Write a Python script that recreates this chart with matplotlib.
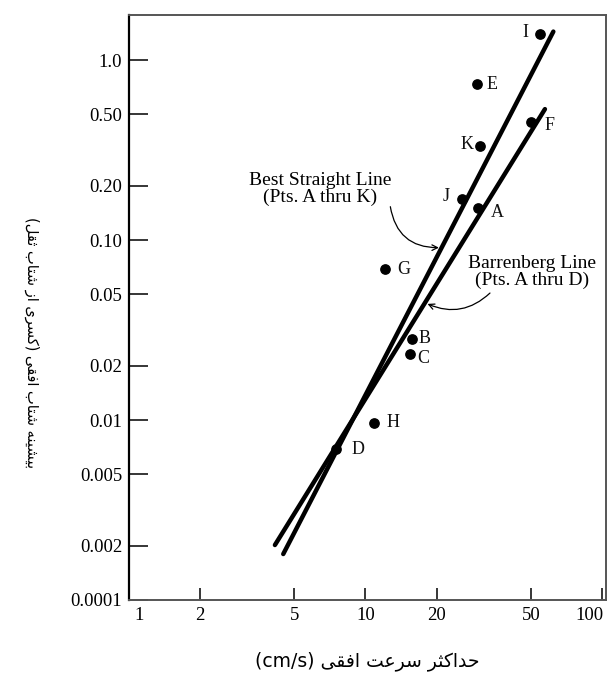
import matplotlib.pyplot as plt
import matplotlib.transforms as mtransforms
import numpy as np

# point data
point_names = ['A', 'B', 'C', 'D', 'E', 'F', 'G', 'H', 'I', 'J', 'K']
velocity = [30.0, 15.7, 15.4, 7.5, 29.5, 50.1, 12.1, 10.9, 54.7, 25.7, 30.5]   # cm/s
accel = [0.151, 0.0282, 0.0233, 0.00687, 0.736, 0.454, 0.0688, 0.00966, 1.39, 0.169, 0.333]

# fitted lines (end points)
best_x = [4.49, 62.3]
best_y = [0.0018, 1.44]
barr_x = [4.14, 57.4]
barr_y = [0.00202, 0.534]

x_ticks = [1, 2, 5, 10, 20, 50, 100]
x_ticklabels = ['1', '2', '5', '10', '20', '50', '100']
y_ticks = [0.001, 0.002, 0.005, 0.01, 0.02, 0.05, 0.1, 0.2, 0.5, 1.0]
y_ticklabels = ['0.0001', '0.002', '0.005', '0.01', '0.02', '0.05', '0.10', '0.20', '0.50', '1.0']

x_label_fa = 'حداکثر سرعت افقی'
y_label_fa = 'بیشینه شتاب افقی (کسری از شتاب ثقل)'

# label offsets (points) for each dot
label_off = {'A': (9, -3), 'B': (5, 0), 'C': (5, -3), 'D': (11, 0), 'E': (7, 0),
             'F': (10, -3), 'G': (9, 0), 'H': (9, 0), 'I': (-8, 1), 'J': (-9, 2),
             'K': (-5, 1)}

# --- minimal arabic/persian shaping (matplotlib has no bidi / joining) ---
FORMS = {
    'ا': ('\uFE8D', '\uFE8E', None, None), 'آ': ('\uFE81', '\uFE82', None, None),
    'ب': ('\uFE8F', '\uFE90', '\uFE91', '\uFE92'), 'پ': ('\uFB56', '\uFB57', '\uFB58', '\uFB59'),
    'ت': ('\uFE95', '\uFE96', '\uFE97', '\uFE98'), 'ث': ('\uFE99', '\uFE9A', '\uFE9B', '\uFE9C'),
    'ج': ('\uFE9D', '\uFE9E', '\uFE9F', '\uFEA0'), 'چ': ('\uFB7A', '\uFB7B', '\uFB7C', '\uFB7D'),
    'ح': ('\uFEA1', '\uFEA2', '\uFEA3', '\uFEA4'), 'خ': ('\uFEA5', '\uFEA6', '\uFEA7', '\uFEA8'),
    'د': ('\uFEA9', '\uFEAA', None, None), 'ذ': ('\uFEAB', '\uFEAC', None, None),
    'ر': ('\uFEAD', '\uFEAE', None, None), 'ز': ('\uFEAF', '\uFEB0', None, None),
    'ژ': ('\uFB8A', '\uFB8B', None, None),
    'س': ('\uFEB1', '\uFEB2', '\uFEB3', '\uFEB4'), 'ش': ('\uFEB5', '\uFEB6', '\uFEB7', '\uFEB8'),
    'ص': ('\uFEB9', '\uFEBA', '\uFEBB', '\uFEBC'), 'ض': ('\uFEBD', '\uFEBE', '\uFEBF', '\uFEC0'),
    'ط': ('\uFEC1', '\uFEC2', '\uFEC3', '\uFEC4'), 'ظ': ('\uFEC5', '\uFEC6', '\uFEC7', '\uFEC8'),
    'ع': ('\uFEC9', '\uFECA', '\uFECB', '\uFECC'), 'غ': ('\uFECD', '\uFECE', '\uFECF', '\uFED0'),
    'ف': ('\uFED1', '\uFED2', '\uFED3', '\uFED4'), 'ق': ('\uFED5', '\uFED6', '\uFED7', '\uFED8'),
    'ک': ('\uFB8E', '\uFB8F', '\uFB90', '\uFB91'), 'گ': ('\uFB92', '\uFB93', '\uFB94', '\uFB95'),
    'ل': ('\uFEDD', '\uFEDE', '\uFEDF', '\uFEE0'), 'م': ('\uFEE1', '\uFEE2', '\uFEE3', '\uFEE4'),
    'ن': ('\uFEE5', '\uFEE6', '\uFEE7', '\uFEE8'), 'و': ('\uFEED', '\uFEEE', None, None),
    'ه': ('\uFEE9', '\uFEEA', '\uFEEB', '\uFEEC'), 'ی': ('\uFBFC', '\uFBFD', '\uFBFE', '\uFBFF'),
}


def shape_rtl(s):
    out = []
    for i, ch in enumerate(s):
        if ch not in FORMS:
            out.append(ch)
            continue
        prev = s[i - 1] if i > 0 else ''
        nxt = s[i + 1] if i < len(s) - 1 else ''
        jp = prev in FORMS and FORMS[prev][2] is not None
        jn = FORMS[ch][2] is not None and nxt in FORMS
        iso, fin, ini, med = FORMS[ch]
        out.append(med if (jp and jn) else fin if jp else ini if jn else iso)
    mirror = {'(': ')', ')': '('}
    return ''.join(mirror.get(c, c) for c in reversed(out))


SERIF = 'Liberation Serif'

fig = plt.figure(figsize=(6.1, 6.73), dpi=100)
fig.patch.set_facecolor('white')
ax = fig.add_axes([0.2115, 0.1085, 0.7819, 0.8692])

ax.set_xscale('log')
ax.set_yscale('log')
ax.set_xlim(1, 104)
ax.set_ylim(0.001, 1.78)

# lines
ax.plot(best_x, best_y, color='black', linewidth=3.2, solid_capstyle='round', zorder=3)
ax.plot(barr_x, barr_y, color='black', linewidth=3.2, solid_capstyle='round', zorder=3)

# points
ax.scatter(velocity, accel, s=45, color='black', zorder=4)
for name, vx, vy in zip(point_names, velocity, accel):
    dx, dy = label_off[name]
    ax.annotate(name, (vx, vy), xytext=(dx, dy), textcoords='offset points',
                ha='left' if dx > 0 else 'right', va='center',
                fontsize=13, family=SERIF, color='#111111')


def on_line(xs, ys, x):
    t = (np.log10(x) - np.log10(xs[0])) / (np.log10(xs[1]) - np.log10(xs[0]))
    return 10 ** (np.log10(ys[0]) + t * (np.log10(ys[1]) - np.log10(ys[0])))


# callouts
ax.text(0.40, 0.703, 'Best Straight Line\n(Pts. A thru K)', transform=ax.transAxes,
        ha='center', va='center', fontsize=14, family=SERIF, linespacing=1.0)
bx = 21.0
ax.annotate('', xy=(bx, on_line(best_x, best_y, bx)), xycoords='data',
            xytext=(0.547, 0.677), textcoords='axes fraction',
            arrowprops=dict(arrowstyle='->', color='black', lw=0.9,
                            connectionstyle='arc3,rad=0.45'))

ax.text(0.845, 0.561, 'Barrenberg Line\n(Pts. A thru D)', transform=ax.transAxes,
        ha='center', va='center', fontsize=14, family=SERIF, linespacing=1.0)
rx = 17.85
ax.annotate('', xy=(rx, on_line(barr_x, barr_y, rx)), xycoords='data',
            xytext=(0.761, 0.528), textcoords='axes fraction',
            arrowprops=dict(arrowstyle='->', color='black', lw=0.9,
                            connectionstyle='arc3,rad=-0.35'))

# axes styling
ax.set_xticks(x_ticks)
ax.set_xticklabels(x_ticklabels, family=SERIF, fontsize=13.5)
ax.set_yticks(y_ticks)
ax.set_yticklabels(y_ticklabels, family=SERIF, fontsize=13.5)
ax.minorticks_off()
ax.tick_params(axis='x', direction='in', length=8.5, width=1.1, pad=5)
ax.tick_params(axis='y', direction='in', length=13.5, width=1.1, pad=5)
xlabs = ax.get_xticklabels()
xlabs[0].set_transform(xlabs[0].get_transform() +
                       mtransforms.ScaledTranslation(7 / 72, 0, fig.dpi_scale_trans))
xlabs[-1].set_transform(xlabs[-1].get_transform() +
                        mtransforms.ScaledTranslation(-9 / 72, 0, fig.dpi_scale_trans))
for side in ['top', 'right', 'bottom']:
    ax.spines[side].set_color('#555555')
    ax.spines[side].set_linewidth(1.4)
ax.spines['left'].set_color('black')
ax.spines['left'].set_linewidth(1.6)

ax.set_xlabel('(cm/s) ' + shape_rtl(x_label_fa), family=['DejaVu Sans'], fontsize=13.5,
              labelpad=20)
ax.set_ylabel(shape_rtl(y_label_fa), family=['DejaVu Sans'], fontsize=10.5,
              rotation=270, labelpad=28)
ax.yaxis.set_label_coords(-0.22, 0.44)

fig.savefig('out.png', dpi=100, facecolor='white')
